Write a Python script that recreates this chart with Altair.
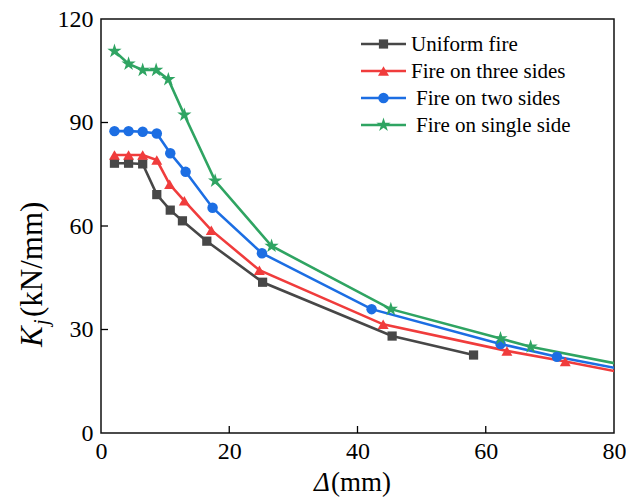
import altair as alt
import pandas as pd

series_names = ["Uniform fire", "Fire on three sides", "Fire on two sides", "Fire on single side"]

uniform_x = [2.1, 4.3, 6.5, 8.7, 10.8, 12.7, 16.5, 25.2, 45.4, 58.1]
uniform_y = [78.2, 78.2, 78.0, 69.1, 64.6, 61.5, 55.6, 43.7, 28.1, 22.6]

three_x = [2.1, 4.3, 6.5, 8.7, 10.7, 13.0, 17.2, 24.7, 44.0, 63.3, 72.4, 85.0]
three_y = [80.6, 80.6, 80.6, 79.1, 72.1, 67.3, 58.8, 47.2, 31.5, 23.8, 20.7, 16.2]

two_x = [2.1, 4.3, 6.5, 8.7, 10.8, 13.2, 17.4, 25.1, 42.2, 62.3, 71.1, 85.0]
two_y = [87.5, 87.5, 87.3, 86.8, 81.1, 75.7, 65.3, 52.1, 35.9, 25.8, 22.1, 17.1]

single_x = [2.1, 4.3, 6.5, 8.6, 10.5, 13.0, 17.8, 26.6, 45.2, 62.3, 67.0, 85.0]
single_y = [110.7, 107.0, 105.2, 105.2, 102.5, 92.2, 73.1, 54.2, 35.9, 27.4, 25.0, 18.4]

x_ticks = [0, 20, 40, 60, 80]
y_ticks = [0, 30, 60, 90, 120]
inner_x_ticks = [20, 40, 60]
inner_y_ticks = [30, 60, 90]

colors = ["#474747", "#f03c3c", "#1c6ee3", "#2fa462"]
STAR = ("M0,-1.5L0.337,-0.464L1.427,-0.464L0.545,0.177L0.882,1.214L0,0.573"
        "L-0.882,1.214L-0.545,0.177L-1.427,-0.464L-0.337,-0.464Z")
shapes = ["square", "triangle-up", "circle", STAR]
marker_sizes = [85, 120, 110, 100]
legend_sizes = [45, 60, 60, 45]

FONT = "Liberation Serif"
W, H = 513, 414

frames = []
for name, xs, ys in zip(series_names, [uniform_x, three_x, two_x, single_x],
                        [uniform_y, three_y, two_y, single_y]):
    frames.append(pd.DataFrame({"series": name, "d": xs, "k": ys}))
df = pd.concat(frames, ignore_index=True)

leg = pd.DataFrame({
    "series": series_names,
    "ly": [25 + 27 * i for i in range(4)],
    "tx": [310, 310, 315, 315],
})

xscale = alt.Scale(domain=[0, 80], nice=False, zero=False)
yscale = alt.Scale(domain=[0, 120], nice=False, zero=False)
cscale = alt.Scale(domain=series_names, range=colors)
sscale = alt.Scale(domain=series_names, range=shapes)
zscale = alt.Scale(type="ordinal", domain=series_names, range=marker_sizes)
lzscale = alt.Scale(type="ordinal", domain=series_names, range=legend_sizes)

axis_common = dict(domain=False, ticks=False, grid=False, title=None,
                   labelFont=FONT, labelFontSize=24, labelColor="black", labelFlush=False)
xaxis = alt.Axis(values=x_ticks, labelPadding=6, **axis_common)
yaxis = alt.Axis(values=y_ticks, labelPadding=8, **axis_common)

lines = alt.Chart(df).mark_line(strokeWidth=2.6, clip=True).encode(
    x=alt.X("d:Q", scale=xscale, axis=xaxis),
    y=alt.Y("k:Q", scale=yscale, axis=yaxis),
    color=alt.Color("series:N", scale=cscale, legend=None),
    detail="series:N",
)

points = alt.Chart(df).mark_point(filled=True, opacity=1, clip=True).encode(
    x=alt.X("d:Q", scale=xscale, axis=xaxis),
    y=alt.Y("k:Q", scale=yscale, axis=yaxis),
    color=alt.Color("series:N", scale=cscale, legend=None),
    shape=alt.Shape("series:N", scale=sscale, legend=None),
    size=alt.Size("series:N", scale=zscale, legend=None),
)

xt = alt.Chart(pd.DataFrame({"v": inner_x_ticks})).mark_rule(color="black", strokeWidth=1.3).encode(
    x=alt.X("v:Q", scale=xscale, axis=xaxis),
    y=alt.value(H), y2=alt.value(H - 7),
)
yt = alt.Chart(pd.DataFrame({"v": inner_y_ticks})).mark_rule(color="black", strokeWidth=1.3).encode(
    y=alt.Y("v:Q", scale=yscale, axis=yaxis),
    x=alt.value(0), x2=alt.value(7),
)

leg_lines = alt.Chart(leg).mark_rule(strokeWidth=2.6).encode(
    x=alt.value(260), x2=alt.value(305),
    y=alt.Y("ly:Q", scale=None),
    color=alt.Color("series:N", scale=cscale, legend=None),
)
leg_pts = alt.Chart(leg).mark_point(filled=True, opacity=1).encode(
    x=alt.value(282.5),
    y=alt.Y("ly:Q", scale=None),
    color=alt.Color("series:N", scale=cscale, legend=None),
    shape=alt.Shape("series:N", scale=sscale, legend=None),
    size=alt.Size("series:N", scale=lzscale, legend=None),
)
leg_text = alt.Chart(leg).mark_text(align="left", baseline="middle", font=FONT,
                                    fontSize=21, color="black", dy=1).encode(
    x=alt.X("tx:Q", scale=None),
    y=alt.Y("ly:Q", scale=None),
    text="series:N",
)

one = alt.Data(values=[{"a": 1}])
YT_X = -59
ytitle_k = alt.Chart(one).mark_text(text="K", angle=270, align="left", baseline="alphabetic",
                                    font=FONT, fontSize=31, fontStyle="italic", color="black").encode(
    x=alt.value(YT_X), y=alt.value(328))
ytitle_j = alt.Chart(one).mark_text(text="j", angle=270, align="left", baseline="alphabetic",
                                    font=FONT, fontSize=20, fontStyle="italic", color="black").encode(
    x=alt.value(YT_X + 6), y=alt.value(306))
ytitle_r = alt.Chart(one).mark_text(text="(kN/mm)", angle=270, align="left", baseline="alphabetic",
                                    font=FONT, fontSize=31, color="black").encode(
    x=alt.value(YT_X), y=alt.value(298))

xtitle_d = alt.Chart(one).mark_text(text="Δ", align="left", baseline="alphabetic",
                                    font=FONT, fontSize=27, fontStyle="italic", color="black").encode(
    x=alt.value(213), y=alt.value(H + 58))
xtitle_r = alt.Chart(one).mark_text(text="(mm)", align="left", baseline="alphabetic",
                                    font=FONT, fontSize=27, color="black").encode(
    x=alt.value(230), y=alt.value(H + 58))

chart = alt.layer(
    lines, points, xt, yt, leg_lines, leg_pts, leg_text,
    ytitle_k, ytitle_j, ytitle_r, xtitle_d, xtitle_r,
).properties(
    width=W, height=H,
    autosize=alt.AutoSizeParams(type="none"),
    padding={"left": 101, "top": 19, "right": 12, "bottom": 67},
    background="white",
).configure_view(stroke="#111111", strokeWidth=1.5)

chart.save("out.html", embed_options={"renderer": "svg", "actions": False})
